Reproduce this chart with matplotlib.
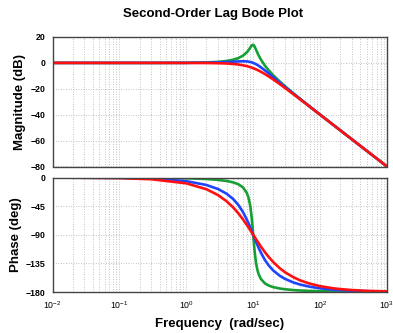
import matplotlib
matplotlib.use("Agg")
import matplotlib.pyplot as plt
from matplotlib.ticker import LogLocator, NullFormatter, FixedLocator

# Frequencies (rad/sec)
freq = [0.01, 0.1, 0.3, 1, 2, 3, 4, 5, 6, 7, 8, 8.5, 9, 9.5, 9.75, 10, 10.25, 10.5,
        11, 11.5, 12, 13, 15, 17, 20, 25, 30, 40, 50, 70, 100, 150, 200, 300, 500, 1000]

# Magnitude (dB)
mag_green = [0.00, 0.00, 0.01, 0.09, 0.35, 0.80, 1.48, 2.42, 3.73, 5.53, 8.09, 9.75,
             11.64, 13.41, 13.93, 13.98, 13.51, 12.63, 10.34, 8.04, 6.00, 2.65, -2.18,
             -5.67, -9.62, -14.44, -18.09, -23.53, -27.61, -33.63, -39.91, -47.01,
             -52.02, -59.08, -67.96, -80.00]
mag_blue = [0.00, 0.00, 0.00, 0.04, 0.17, 0.37, 0.63, 0.90, 1.14, 1.25, 1.14, 0.97,
            0.73, 0.40, 0.21, 0.00, -0.23, -0.47, -0.98, -1.54, -2.13, -3.36, -5.81,
            -8.10, -11.14, -15.29, -18.63, -23.82, -27.79, -33.72, -39.96, -47.02,
            -52.03, -59.08, -67.96, -80.00]
mag_red = [0.00, 0.00, 0.00, -0.02, -0.10, -0.25, -0.47, -0.80, -1.24, -1.80, -2.47,
           -2.85, -3.24, -3.65, -3.87, -4.08, -4.30, -4.52, -4.97, -5.43, -5.89, -6.81,
           -8.65, -10.40, -12.84, -16.39, -19.40, -24.25, -28.06, -33.86, -40.02,
           -47.05, -52.05, -59.09, -67.96, -80.00]

# Phase (deg)
ph_green = [-0.01, -0.11, -0.34, -1.16, -2.39, -3.77, -5.44, -7.59, -10.62, -15.35,
            -23.96, -31.49, -43.45, -62.83, -75.79, -90.00, -103.87, -116.02, -133.67,
            -144.50, -151.39, -159.35, -166.50, -169.80, -172.41, -174.56, -175.71,
            -176.95, -177.61, -178.33, -178.84, -179.23, -179.43, -179.62, -179.77,
            -179.89]
ph_blue = [-0.06, -0.57, -1.72, -5.77, -11.77, -18.25, -25.46, -33.69, -43.15, -53.92,
           -65.77, -71.92, -78.08, -84.14, -87.10, -90.00, -92.83, -95.58, -100.81,
           -105.67, -110.14, -117.96, -129.81, -138.03, -146.31, -154.54, -159.44,
           -165.07, -168.23, -171.70, -174.23, -176.17, -177.13, -178.09, -178.85,
           -179.43]
ph_red = [-0.09, -0.92, -2.75, -9.18, -18.43, -27.81, -37.30, -46.85, -56.31, -65.52,
          -74.29, -78.47, -82.48, -86.33, -88.19, -90.00, -91.77, -93.49, -96.80,
          -99.94, -102.91, -108.35, -117.51, -124.79, -133.15, -142.70, -149.04,
          -156.89, -161.57, -166.87, -170.82, -173.88, -175.41, -176.94, -178.17,
          -179.08]

mag_ticks = [20, 0, -20, -40, -60, -80]
phase_ticks = [0, -45, -90, -135, -180]

title = "Second-Order Lag Bode Plot"
ylabel_mag = "Magnitude (dB)"
ylabel_phase = "Phase (deg)"
xlabel = "Frequency  (rad/sec)"

plt.rcParams['font.family'] = ['Liberation Sans', 'DejaVu Sans']
plt.rcParams['mathtext.fontset'] = 'custom'
plt.rcParams['mathtext.rm'] = 'Liberation Sans:bold'
plt.rcParams['mathtext.it'] = 'Liberation Sans:bold'
plt.rcParams['mathtext.bf'] = 'Liberation Sans:bold'

colors = ['#16a034', '#1f44ff', '#ff1010']

fig = plt.figure(figsize=(3.93, 3.33), dpi=100)
W, H = 393.0, 333.0
ax1 = fig.add_axes([52.5 / W, 1 - 166.5 / H, 334.5 / W, 129.5 / H])
ax2 = fig.add_axes([52.5 / W, 1 - 292 / H, 334.5 / W, 114.5 / H])

for ax in (ax1, ax2):
    ax.set_xscale('log')
    ax.set_xlim(0.01, 1000)
    ax.xaxis.set_major_locator(LogLocator(base=10, numticks=10))
    ax.xaxis.set_minor_locator(LogLocator(base=10, subs=range(2, 10), numticks=20))
    ax.xaxis.set_minor_formatter(NullFormatter())
    ax.grid(True, which='both', axis='x', color='#b0b0b0', linestyle=(0, (1, 2)), linewidth=0.6)
    ax.grid(True, which='major', axis='y', color='#b0b0b0', linestyle=(0, (1, 2)), linewidth=0.6)
    ax.tick_params(which='both', length=0, labelsize=6.3, pad=5)
    for sp in ax.spines.values():
        sp.set_color('#444444')
        sp.set_linewidth(1.0)

ax1.plot(freq, mag_green, color=colors[0], lw=1.9, solid_capstyle='butt')
ax1.plot(freq, mag_blue, color=colors[1], lw=1.9, solid_capstyle='butt')
ax1.plot(freq, mag_red, color=colors[2], lw=1.9, solid_capstyle='butt')
ax1.set_ylim(-80, 20)
ax1.yaxis.set_major_locator(FixedLocator(mag_ticks))
ax1.set_yticklabels([str(t).replace('-', '\u2212') for t in mag_ticks], fontweight='bold')
ax1.tick_params(axis='x', labelbottom=False)
ax1.set_ylabel(ylabel_mag, fontsize=9.5, fontweight='bold', labelpad=3)

ax2.plot(freq, ph_green, color=colors[0], lw=1.9, solid_capstyle='butt')
ax2.plot(freq, ph_blue, color=colors[1], lw=1.9, solid_capstyle='butt')
ax2.plot(freq, ph_red, color=colors[2], lw=1.9, solid_capstyle='butt')
ax2.set_ylim(-180, 0)
ax2.yaxis.set_major_locator(FixedLocator(phase_ticks))
ax2.set_yticklabels([str(t).replace('-', '\u2212') for t in phase_ticks], fontweight='bold')
ax2.set_ylabel(ylabel_phase, fontsize=9.5, fontweight='bold', labelpad=3)
ax2.set_xlabel(xlabel, fontsize=9.5, fontweight='bold', labelpad=5)

fig.text(213.5 / W, 1 - 17 / H, title, fontsize=9.5, fontweight='bold',
         ha='center', va='baseline')

fig.savefig('out.png', dpi=100)
